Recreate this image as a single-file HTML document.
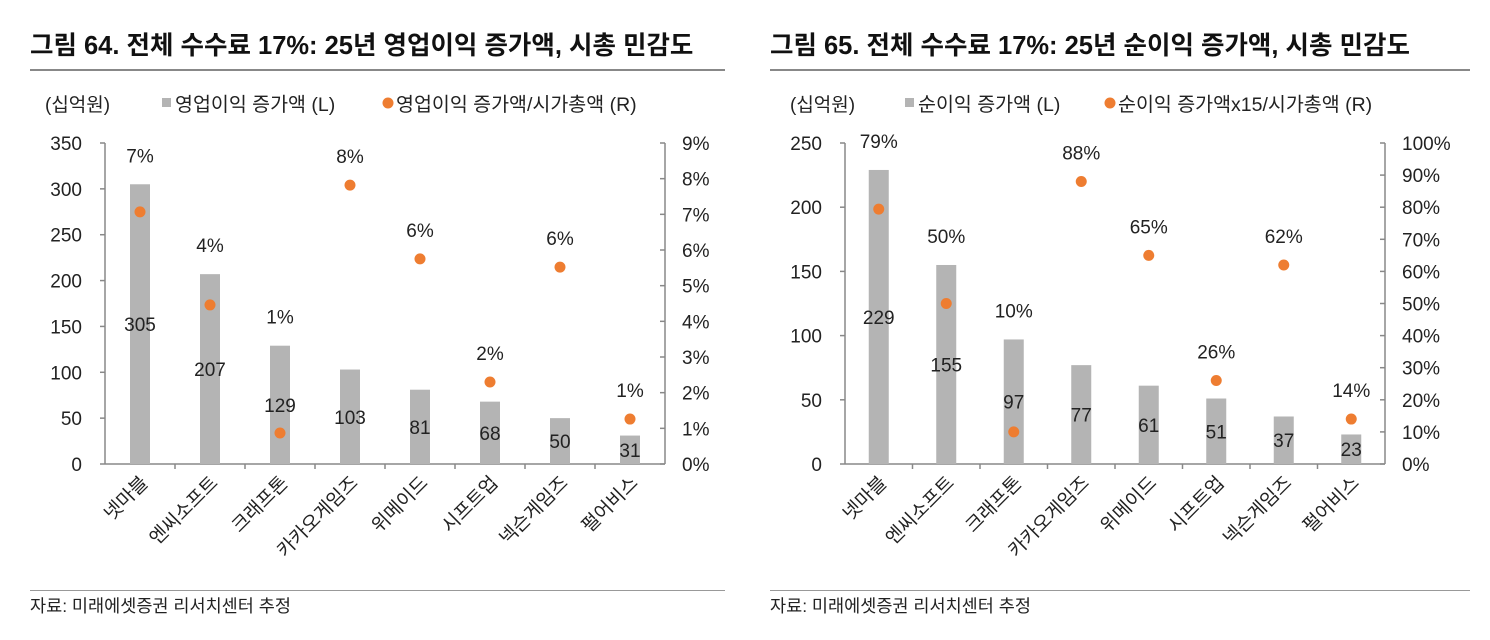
<!DOCTYPE html>
<html><head><meta charset="utf-8">
<style>
body{margin:0;background:#fff;}
svg{display:block;font-family:"Liberation Sans","Noto Sans CJK KR",sans-serif;}
</style></head>
<body>
<svg id="s" width="1490" height="640" xmlns="http://www.w3.org/2000/svg">
<text x="30" y="54" font-size="25.5" font-weight="bold" fill="#111">그림 64. 전체 수수료 17%: 25년 영업이익 증가액, 시총 민감도</text>
<text x="770" y="54" font-size="25.5" font-weight="bold" fill="#111">그림 65. 전체 수수료 17%: 25년 순이익 증가액, 시총 민감도</text>
<rect x="30" y="69" width="695" height="2" fill="#888"/>
<rect x="770" y="69" width="700" height="2" fill="#888"/>
<rect x="30" y="590" width="695" height="1" fill="#999"/>
<rect x="770" y="590" width="700" height="1" fill="#999"/>
<text x="30" y="612" font-size="17.5" fill="#222">자료: 미래에셋증권 리서치센터 추정</text>
<text x="770" y="612" font-size="17.5" fill="#222">자료: 미래에셋증권 리서치센터 추정</text>
</svg>
<script>
const catsL=["넷마블","엔씨소프트","크래프톤","카카오게임즈","위메이드","시프트업","넥슨게임즈","펄어비스"];
const barsL=[305,207,129,103,81,68,50,31];
const dotsL=[7.07,4.46,0.87,7.82,5.75,2.3,5.52,1.26];
const leftTicksL=[0,50,100,150,200,250,300,350];
const rightTicksL=[0,1,2,3,4,5,6,7,8,9];
const catsR=["넷마블","엔씨소프트","크래프톤","카카오게임즈","위메이드","시프트업","넥슨게임즈","펄어비스"];
const barsR=[229,155,97,77,61,51,37,23];
const dotsR=[79.4,50,10,88,65,26,62,14];
const leftTicksR=[0,50,100,150,200,250];
const rightTicksR=[0,10,20,30,40,50,60,70,80,90,100];

const S=document.getElementById('s');
const NS="http://www.w3.org/2000/svg";
function mk(tag,a,txt){const e=document.createElementNS(NS,tag);for(const k in a)e.setAttribute(k,a[k]);if(txt!=null)e.textContent=txt;S.appendChild(e);return e;}

function chart(o,p){
 const {x0,x1,y0,y1,lmax,rmax}=o;
 const yL=v=>y0-(v/lmax)*(y0-y1);
 const yR=v=>y0-(v/rmax)*(y0-y1);
 const n=o.cats.length, step=(x1-x0)/n;
 const xc=i=>x0+step*(i+0.5);
 let e;
 e=mk('text',{x:o.unitX,y:111,'font-size':19,fill:'#222'},'(십억원)');
 
 
 e=mk('rect',{x:o.legX,y:98,width:9,height:9,fill:'#b4b4b4'});
 
 
 e=mk('text',{x:o.legX+13,y:111,'font-size':19.5,fill:'#222'},o.leg1);
 
 
 e=mk('circle',{cx:o.leg2X,cy:103,r:5.5,fill:'#ee7d31'});
 
 
 e=mk('text',{x:o.leg2X+8,y:111,'font-size':19.5,fill:'#222'},o.leg2);
 
 
 e=mk('line',{x1:x0,y1:y1,x2:x0,y2:y0,stroke:'#888','stroke-width':1.5});
 
 
 e=mk('line',{x1:x1,y1:y1,x2:x1,y2:y0,stroke:'#888','stroke-width':1.5});
 
 
 e=mk('line',{x1:x0,y1:y0,x2:x1,y2:y0,stroke:'#888','stroke-width':1.5});
 
 
 o.lt.forEach(v=>{
  mk('line',{x1:x0-5,y1:yL(v),x2:x0,y2:yL(v),stroke:'#888','stroke-width':1.5});
  e=mk('text',{x:x0-23,y:yL(v)+7,'font-size':19,'text-anchor':'end',fill:'#222'},v);
  
  
 });
 o.rt.forEach(v=>{
  mk('line',{x1:x1-5,y1:yR(v),x2:x1,y2:yR(v),stroke:'#888','stroke-width':1.5});
  e=mk('text',{x:x1+17,y:yR(v)+7,'font-size':19,fill:'#222'},v+'%');
  
  
 });
 for(let i=1;i<n;i++) mk('line',{x1:x0+step*i,y1:y0,x2:x0+step*i,y2:y0+5,stroke:'#888','stroke-width':1.5});
 o.cats.forEach((c,i)=>{
  const cx=xc(i), bt=yL(o.bars[i]);
  e=mk('rect',{x:cx-10,y:bt,width:20,height:y0-bt,fill:'#b4b4b4'});
  
  
  e=mk('text',{x:cx,y:(bt+y0)/2+7,'font-size':19,'text-anchor':'middle',fill:'#222'},o.bars[i]);
  
  
  const dy=yR(o.dots[i]);
  e=mk('circle',{cx:cx,cy:dy,r:5.5,fill:'#ee7d31'});
  
  
  e=mk('text',{x:cx,y:Math.min(dy,bt)-22,'font-size':19,'text-anchor':'middle',fill:'#222'},Math.round(o.dots[i])+'%');
  
  
  e=mk('text',{x:cx+9,y:y0+20,'font-size':19,'text-anchor':'end',fill:'#222',transform:`rotate(-45 ${cx+9} ${y0+20})`},c);
  
  
 });
}
chart({x0:105,x1:665,y0:464,y1:143,lmax:350,rmax:9,cats:catsL,bars:barsL,dots:dotsL,lt:leftTicksL,rt:rightTicksL,unitX:45,legX:162,leg1:'영업이익 증가액 (L)',leg2X:388,leg2:'영업이익 증가액/시가총액 (R)'},'left');
chart({x0:845,x1:1385,y0:464,y1:143,lmax:250,rmax:100,cats:catsR,bars:barsR,dots:dotsR,lt:leftTicksR,rt:rightTicksR,unitX:790,legX:905,leg1:'순이익 증가액 (L)',leg2X:1110,leg2:'순이익 증가액x15/시가총액 (R)'},'right');
</script>
</body></html>
